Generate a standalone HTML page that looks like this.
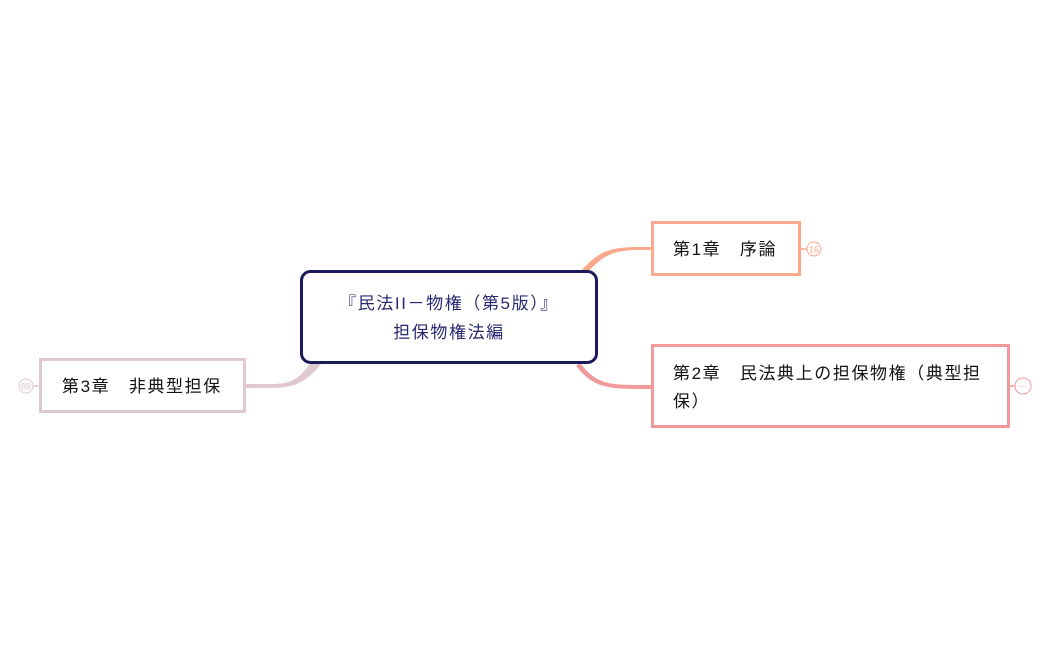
<!DOCTYPE html>
<html><head><meta charset="utf-8"><style>
html,body{margin:0;padding:0;background:#fff;width:1049px;height:650px;overflow:hidden}
text{font-family:"Liberation Sans","Noto Sans CJK JP",sans-serif;font-size:17px;letter-spacing:1.6px}
text.b{letter-spacing:0}
</style></head><body>
<svg width="1049" height="650" viewBox="0 0 1049 650" xmlns="http://www.w3.org/2000/svg">
<path d="M580,272 C598,252 608,247 640,247 L652,247 L652,250 L640,250 C612,250 602,256 586,274 Z" fill="#fba98c"/>
<path d="M580,363 C596,383 606,385 640,385 L652,385 L652,389 L640,389 C602,389 592,385 576,366 Z" fill="#f29a9a"/>
<path d="M312,361 C298,380 292,384 270,384 L245,384 L245,388 L270,388 C296,388 306,382 322,363 Z" fill="#e0c8d0"/>
<rect x="301.5" y="271.5" width="295" height="91" rx="9" fill="#fff" stroke="#1b1a5a" stroke-width="3"/>
<text x="449" y="309" text-anchor="middle" fill="#2a2870">『民法II－物権（第5版）』</text>
<text x="449" y="338" text-anchor="middle" fill="#2a2870">担保物権法編</text>
<rect x="652.5" y="222.5" width="147" height="52" fill="#fff" stroke="#fba98c" stroke-width="3"/>
<text x="673" y="255" fill="#111">第1章　序論</text>
<line x1="801" y1="249" x2="807" y2="249" stroke="#fba98c" stroke-width="1.5"/>
<circle cx="814" cy="249" r="7" fill="#fff" stroke="#fba98c" stroke-width="1"/>
<text class="b" x="814" y="252.5" text-anchor="middle" fill="#fba98c" style="font-size:9px">16</text>
<rect x="652.5" y="345.5" width="356" height="81" fill="#fff" stroke="#f29a9a" stroke-width="3"/>
<text x="673" y="379" fill="#111">第2章　民法典上の担保物権（典型担</text>
<text x="673" y="407" fill="#111">保）</text>
<line x1="1010" y1="386" x2="1015" y2="386" stroke="#f29a9a" stroke-width="1.5"/>
<circle cx="1023" cy="386" r="8" fill="#fff" stroke="#f29a9a" stroke-width="1"/>
<text class="b" x="1023" y="389" text-anchor="middle" fill="#f29a9a" style="font-size:9px">···</text>
<rect x="40.5" y="359.5" width="204" height="52" fill="#fff" stroke="#e0c8d0" stroke-width="3"/>
<text x="62" y="392" fill="#111">第3章　非典型担保</text>
<line x1="33" y1="386" x2="39" y2="386" stroke="#e0c8d0" stroke-width="1.5"/>
<circle cx="26" cy="386" r="7" fill="#fff" stroke="#e0c8d0" stroke-width="1"/>
<text class="b" x="26" y="389.5" text-anchor="middle" fill="#e0c8d0" style="font-size:9px">89</text>
</svg>
</body></html>
